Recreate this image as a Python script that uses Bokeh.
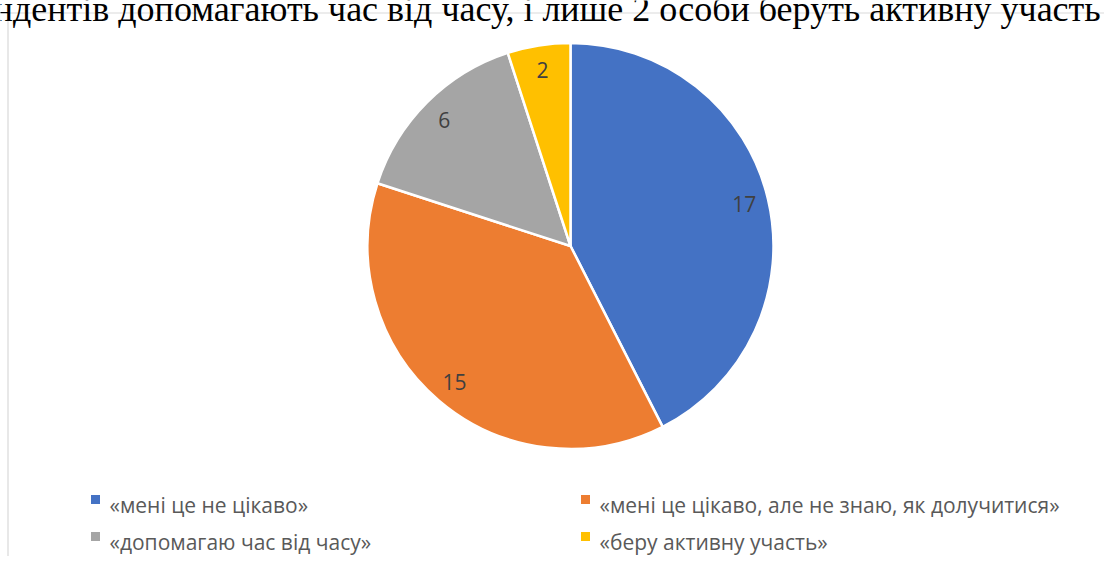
import math
from bokeh.plotting import figure
from bokeh.models import Range1d, ColumnDataSource
from bokeh.core.properties import value
from bokeh.embed import file_html
from bokeh.resources import INLINE

# ---- data ----
categories = ["«мені це не цікаво»",
              "«мені це цікаво, але не знаю, як долучитися»",
              "«допомагаю час від часу»",
              "«беру активну участь»"]
counts = [17, 15, 6, 2]
colors = ["#4472C4", "#ED7D31", "#A5A5A5", "#FFC000"]
title_text = "спондентів допомагають час від часу, і лише 2 особи беруть активну участь у"

W, H = 1104, 556
p = figure(width=W, height=H, output_backend="svg", toolbar_location=None,
           x_range=Range1d(0, W), y_range=Range1d(0, H), min_border=0)
p.axis.visible = False
p.grid.visible = False
p.outline_line_color = None
p.background_fill_color = "white"

# chart area border
p.line(x=[7.5, 7.5], y=[0, H - 12.5], line_color="#D9D9D9", line_width=1.2)
p.line(x=[7.5, W], y=[H - 12.5, H - 12.5], line_color="#D9D9D9", line_width=1.2)

# title text (clipped at top, as in the document)
p.text(x=[-60], y=[H - 8], text=[title_text], text_font=value("Liberation Serif"),
       text_font_size="36px", text_color="#000000", text_baseline="alphabetic",
       text_align="left")

# pie
cx, cy, R = 570, H - 245.5, 203
total = sum(counts)
starts, ends, lx, ly, labels = [], [], [], [], []
cum = 0
for c in counts:
    a0 = math.pi / 2 - cum / total * 2 * math.pi
    cum += c
    a1 = math.pi / 2 - cum / total * 2 * math.pi
    starts.append(a0)
    ends.append(a1)
    mid = (a0 + a1) / 2
    lx.append(cx + 0.88 * R * math.cos(mid))
    ly.append(cy + 0.88 * R * math.sin(mid))
    labels.append(str(c))

src = ColumnDataSource(dict(start=starts, end=ends, color=colors,
                            x=[cx] * len(counts), y=[cy] * len(counts)))
p.wedge(x="x", y="y", radius=R, start_angle="start", end_angle="end",
        direction="clock", fill_color="color", line_color="white",
        line_width=2.5, source=src)

p.text(x=lx, y=ly, text=labels, text_font=value("Open Sans"), text_font_size="21px",
       text_color="#404040", text_align="center", text_baseline="middle")

# legend (2 columns x 2 rows)
col_x = [95, 585]
row_base = [H - 504, H - 541]
mx, my, tx, ty = [], [], [], []
for i, cat in enumerate(categories):
    cx_i = col_x[i % 2]
    b = row_base[i // 2]
    mx.append(cx_i)
    my.append(b + 5)
    tx.append(cx_i + 14)
    ty.append(b)
p.scatter(x=mx, y=my, marker="square", size=9, fill_color=colors, line_color=None)
p.text(x=tx, y=ty, text=categories, text_font=value("Open Sans"), text_font_size="21px",
       text_color="#595959", text_align="left", text_baseline="alphabetic")

open("out.html", "w").write(file_html(p, INLINE))
